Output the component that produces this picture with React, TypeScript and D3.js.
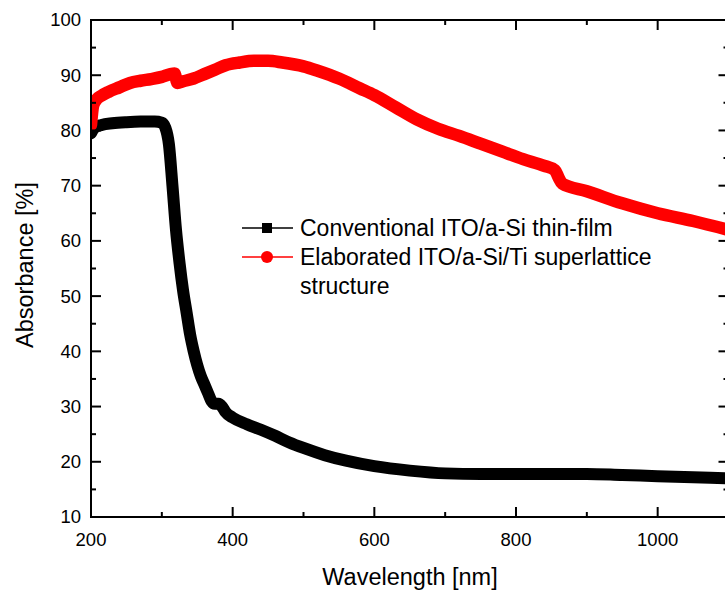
import * as d3 from "d3";
import { useEffect, useRef } from "react";

// wavelength [nm] / absorbance [%]
const blackWl = [200, 205, 215, 230, 250, 270, 290, 300, 305, 310, 315, 320, 325, 330, 335, 340, 345, 350, 355, 360, 365, 370, 375, 380, 385, 390, 400, 420, 440, 460, 480, 500, 530, 560, 600, 650, 700, 750, 800, 850, 900, 950, 1000, 1050, 1100];
const blackAbs = [79.5, 80.5, 81.0, 81.3, 81.5, 81.6, 81.6, 81.4, 80.5, 77.5, 70, 62, 56, 51, 47, 43, 40, 37.5, 35.5, 34, 32.5, 31, 30.5, 30.5, 30, 29, 28, 26.8, 25.8, 24.7, 23.5, 22.5, 21.2, 20.2, 19.2, 18.4, 17.9, 17.8, 17.8, 17.8, 17.8, 17.6, 17.4, 17.2, 17.0];

const redWl = [200, 203, 207, 215, 225, 240, 255, 270, 285, 300, 312, 318, 322, 330, 345, 360, 375, 390, 410, 430, 450, 470, 500, 520, 550, 580, 600, 630, 660, 690, 720, 750, 780, 810, 840, 855, 860, 865, 900, 950, 1000, 1050, 1100];
const redAbs = [81, 84.5, 85.5, 86.3, 87, 87.8, 88.6, 89, 89.3, 89.7, 90.2, 90.3, 88.6, 88.9, 89.4, 90.2, 91, 91.8, 92.3, 92.6, 92.6, 92.3, 91.6, 90.8, 89.4, 87.6, 86.4, 84.2, 82.0, 80.3, 79.0, 77.6, 76.2, 74.8, 73.6, 72.8, 71.5, 70.4, 69, 66.8, 65, 63.6, 62];

const xTicks = [200, 400, 600, 800, 1000];
const yTicks = [10, 20, 30, 40, 50, 60, 70, 80, 90, 100];
const legendLabels = ["Conventional ITO/a-Si thin-film", "Elaborated ITO/a-Si/Ti superlattice", "structure"];

export default function App() {
  const ref = useRef<SVGSVGElement>(null);

  useEffect(() => {
    const svg = d3.select(ref.current);
    svg.selectAll("*").remove();

    const left = 91, right = 728.5, top = 20, bottom = 517;
    const x = d3.scaleLinear().domain([200, 1100]).range([left, right]);
    const y = d3.scaleLinear().domain([10, 100]).range([bottom, top]);
    const font = "Arial, 'Liberation Sans', sans-serif";

    svg.append("defs").append("clipPath").attr("id", "plot")
      .append("rect").attr("x", left).attr("y", top - 10)
      .attr("width", right - left + 10).attr("height", bottom - top + 10);

    const line = d3.line<[number, number]>()
      .x((d) => x(d[0]))
      .y((d) => y(d[1]))
      .curve(d3.curveMonotoneX);

    const curves = svg.append("g").attr("clip-path", "url(#plot)");
    curves.append("path")
      .attr("d", line(blackWl.map((w, i) => [w, blackAbs[i]])))
      .attr("fill", "none").attr("stroke", "#000").attr("stroke-width", 12)
      .attr("stroke-linejoin", "round").attr("stroke-linecap", "round");
    curves.append("path")
      .attr("d", line(redWl.map((w, i) => [w, redAbs[i]])))
      .attr("fill", "none").attr("stroke", "#ff0000").attr("stroke-width", 12.5)
      .attr("stroke-linejoin", "round").attr("stroke-linecap", "round");

    // frame
    const axes = svg.append("g").attr("stroke", "#000").attr("stroke-width", 2);
    axes.append("rect").attr("x", left).attr("y", top)
      .attr("width", right - left).attr("height", bottom - top).attr("fill", "none");

    const xMinor = d3.range(300, 1100, 200);
    const yMinor = d3.range(15, 100, 10);
    xTicks.forEach((t) => {
      axes.append("line").attr("x1", x(t)).attr("x2", x(t)).attr("y1", bottom).attr("y2", bottom - 10);
      axes.append("line").attr("x1", x(t)).attr("x2", x(t)).attr("y1", top).attr("y2", top + 10);
    });
    xMinor.forEach((t) => {
      axes.append("line").attr("x1", x(t)).attr("x2", x(t)).attr("y1", bottom).attr("y2", bottom - 5);
      axes.append("line").attr("x1", x(t)).attr("x2", x(t)).attr("y1", top).attr("y2", top + 5);
    });
    yTicks.forEach((t) => {
      axes.append("line").attr("x1", left).attr("x2", left + 10).attr("y1", y(t)).attr("y2", y(t));
      axes.append("line").attr("x1", right).attr("x2", right - 10).attr("y1", y(t)).attr("y2", y(t));
    });
    yMinor.forEach((t) => {
      axes.append("line").attr("x1", left).attr("x2", left + 5).attr("y1", y(t)).attr("y2", y(t));
      axes.append("line").attr("x1", right).attr("x2", right - 5).attr("y1", y(t)).attr("y2", y(t));
    });

    const labels = svg.append("g").style("font-family", font).style("font-size", "18.5px").attr("fill", "#000");
    xTicks.forEach((t) => {
      labels.append("text").attr("x", x(t)).attr("y", bottom + 29)
        .attr("text-anchor", "middle").text(t);
    });
    yTicks.forEach((t) => {
      labels.append("text").attr("x", left - 10).attr("y", y(t)).attr("dy", "0.35em")
        .attr("text-anchor", "end").text(t);
    });

    svg.append("text").attr("x", 410).attr("y", 585)
      .attr("text-anchor", "middle").style("font-family", font).style("font-size", "23.5px")
      .text("Wavelength [nm]");
    svg.append("text").attr("transform", `translate(33, 265) rotate(-90)`)
      .attr("text-anchor", "middle").style("font-family", font).style("font-size", "23.5px")
      .text("Absorbance [%]");

    // legend
    const lg = svg.append("g");
    lg.append("line").attr("x1", 242).attr("x2", 293).attr("y1", 228).attr("y2", 228)
      .attr("stroke", "#000").attr("stroke-width", 1.3);
    lg.append("rect").attr("x", 262).attr("y", 223).attr("width", 10).attr("height", 10).attr("fill", "#000");
    lg.append("line").attr("x1", 242).attr("x2", 293).attr("y1", 257).attr("y2", 257)
      .attr("stroke", "#ff0000").attr("stroke-width", 1.3);
    lg.append("circle").attr("cx", 267).attr("cy", 257).attr("r", 6).attr("fill", "#ff0000");
    legendLabels.forEach((s, i) => {
      lg.append("text").attr("x", 300).attr("y", 236 + i * 29)
        .style("font-family", font).style("font-size", "23px").text(s);
    });
  }, []);

  return (
    <svg ref={ref} width={725} height={594}
      style={{ position: "absolute", left: 0, top: 0, background: "#fff" }} />
  );
}
